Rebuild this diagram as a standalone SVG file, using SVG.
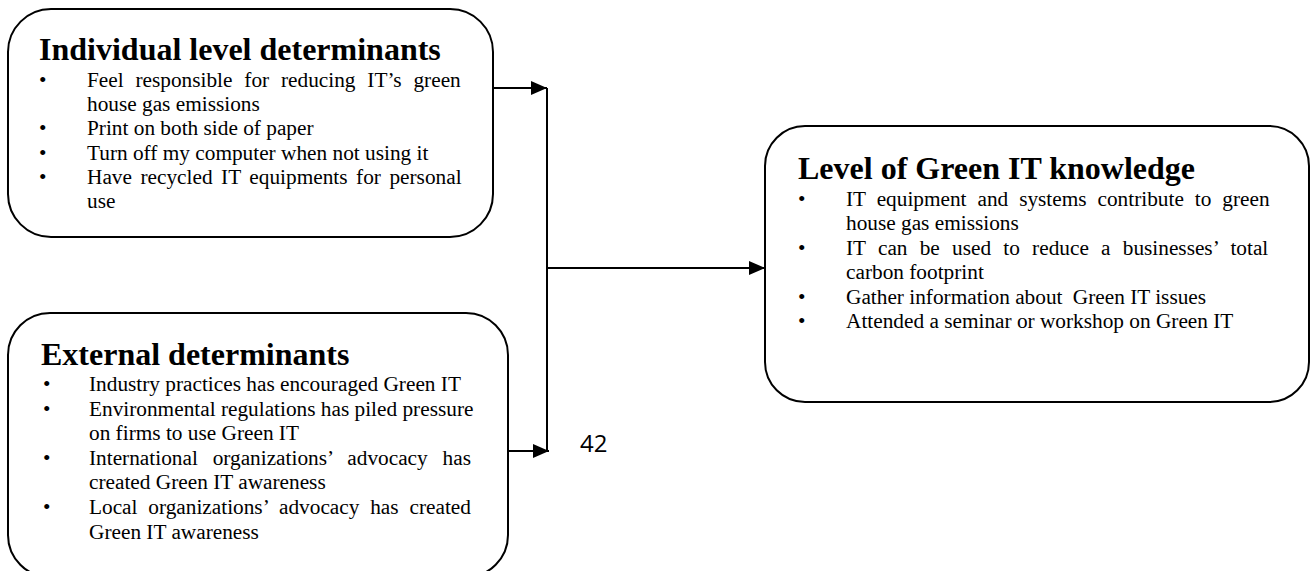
<svg xmlns="http://www.w3.org/2000/svg" width="1311" height="571" viewBox="0 0 1311 571">
<style>
.box{fill:#fff;stroke:#000;stroke-width:2}
.t{font-family:"Liberation Serif","Times New Roman",serif;font-weight:bold;font-size:32px;fill:#000}
.b{font-family:"Liberation Serif","Times New Roman",serif;font-size:21.3px;fill:#000}
.c{fill:none;stroke:#000;stroke-width:2}
.pg{font-family:"Open Sans","Liberation Sans",sans-serif;font-size:24px;fill:#000}
</style>
<defs>
<marker id="ah" markerWidth="16" markerHeight="14" refX="16" refY="7" orient="auto" markerUnits="userSpaceOnUse">
<path d="M0,0 L16,7 L0,14 z" fill="#000"/>
</marker>
</defs>
<rect width="1311" height="571" fill="#fff"/>
<g id="node-individual">
<rect class="box" x="8" y="9" width="485" height="228" rx="43" ry="43"/>
<text class="t" x="39" y="60">Individual level determinants</text>
<text class="b" x="39" y="87">•</text>
<text class="b" x="87" y="87" style="word-spacing:6.5px">Feel responsible for reducing IT’s green</text>
<text class="b" x="87" y="111.2">house gas emissions</text>
<text class="b" x="39" y="135.4">•</text>
<text class="b" x="87" y="135.4">Print on both side of paper</text>
<text class="b" x="39" y="159.6">•</text>
<text class="b" x="87" y="159.6">Turn off my computer when not using it</text>
<text class="b" x="39" y="183.8">•</text>
<text class="b" x="87" y="183.8" style="word-spacing:3.2px">Have recycled IT equipments for personal</text>
<text class="b" x="87" y="208">use</text>
</g>
<g id="node-external">
<rect class="box" x="8" y="313" width="500" height="264" rx="42" ry="42"/>
<text class="t" x="41" y="365">External determinants</text>
<text class="b" x="43" y="391">•</text>
<text class="b" x="89" y="391">Industry practices has encouraged Green IT</text>
<text class="b" x="43" y="415.6">•</text>
<text class="b" x="89" y="415.6">Environmental regulations has piled pressure</text>
<text class="b" x="89" y="440.2">on firms to use Green IT</text>
<text class="b" x="43" y="464.8">•</text>
<text class="b" x="89" y="464.8" style="word-spacing:9.5px">International organizations’ advocacy has</text>
<text class="b" x="89" y="489.4">created Green IT awareness</text>
<text class="b" x="43" y="514">•</text>
<text class="b" x="89" y="514" style="word-spacing:5.5px">Local organizations’ advocacy has created</text>
<text class="b" x="89" y="538.6">Green IT awareness</text>
</g>
<g id="node-knowledge">
<rect class="box" x="765" y="126" width="544" height="276" rx="40" ry="40"/>
<text class="t" x="798" y="179">Level of Green IT knowledge</text>
<text class="b" x="798" y="206">•</text>
<text class="b" x="846" y="206" style="word-spacing:5.6px">IT equipment and systems contribute to green</text>
<text class="b" x="846" y="230.4">house gas emissions</text>
<text class="b" x="798" y="254.8">•</text>
<text class="b" x="846" y="254.8" style="word-spacing:6.9px">IT can be used to reduce a businesses’ total</text>
<text class="b" x="846" y="279.2">carbon footprint</text>
<text class="b" x="798" y="303.6">•</text>
<text class="b" x="846" y="303.6">Gather information about <tspan dx="5">Green IT issues</tspan></text>
<text class="b" x="798" y="328">•</text>
<text class="b" x="846" y="328">Attended a seminar or workshop on Green IT</text>
</g>
<g id="connectors">
<line class="c" x1="493" y1="88" x2="547" y2="88" marker-end="url(#ah)"/>
<line class="c" x1="547" y1="88" x2="547" y2="451"/>
<line class="c" x1="547" y1="268" x2="765" y2="268" marker-end="url(#ah)"/>
<line class="c" x1="509" y1="451" x2="549" y2="451" marker-end="url(#ah)"/>
</g>
<text class="pg" x="580" y="452">42</text>
</svg>
